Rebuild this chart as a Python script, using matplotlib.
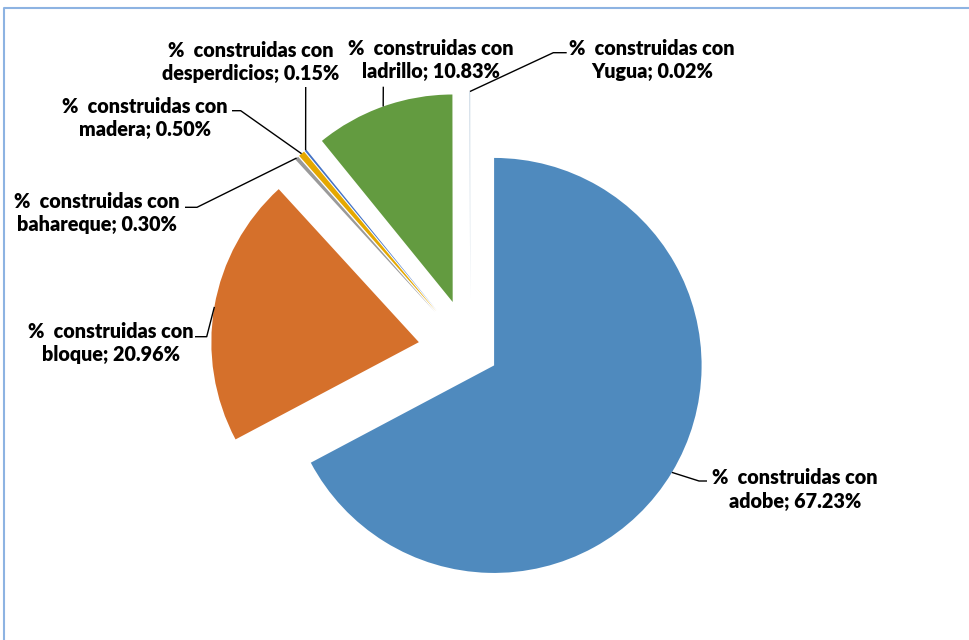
import matplotlib
matplotlib.use('Agg')
import matplotlib.pyplot as plt
import numpy as np

# ---- data ----
categories = ['adobe', 'bloque', 'bahareque', 'madera', 'desperdicios', 'ladrillo', 'Yugua']
values = [67.23, 20.96, 0.30, 0.50, 0.15, 10.83, 0.02]
value_labels = ['67.23%', '20.96%', '0.30%', '0.50%', '0.15%', '10.83%', '0.02%']
label_prefix = '%  construidas con'

# ---- style ----
colors = ['#4F8ABE', '#D5702B', '#9A9A9A', '#E5A800', '#4472C4', '#639B40', '#255E91']
explode = [28, 52, 52, 52, 52, 52, 52]   # offsets in pixels (data units)

W, H = 970, 640
fig = plt.figure(figsize=(W / 100, H / 100), dpi=100)
ax = fig.add_axes([0, 0, 1, 1])


def Y(y):
    return H - y


wedges, _ = ax.pie(values, explode=explode, colors=colors, startangle=90,
                   counterclock=False, radius=207.5, center=(470.1, Y(351)),
                   wedgeprops=dict(linewidth=0))

ax.set_xlim(0, W)
ax.set_ylim(0, H)
ax.set_aspect('auto')
ax.axis('off')

# label layout (image pixel coords): text centre, leader path after the anchor
layout = {
    'adobe':        ((795, 489.5), [(699, 481), (707, 481)]),
    'bloque':       ((111, 343),   [(206.7, 336.7), (195, 336.7)]),
    'bahareque':    ((97, 213),    [(197, 207.3), (185, 207.3)]),
    'madera':       ((145, 118),   [(240.7, 110.7), (232, 110.7)]),
    'desperdicios': ((251, 62),    [(305.7, 87)]),
    'ladrillo':     ((431, 60),    [(383.3, 86.7)]),
    'Yugua':        ((652, 60),    [(553.3, 52.7), (566.7, 52.7)]),
}

for w, cat, vl in zip(wedges, categories, value_labels):
    tm = np.deg2rad((w.theta1 + w.theta2) / 2)
    cx, cy = w.center
    ax_pt = (cx + w.r * np.cos(tm), cy + w.r * np.sin(tm))
    (tx, ty), path = layout[cat]
    xs = [ax_pt[0]] + [p[0] for p in path]
    ys = [ax_pt[1]] + [Y(p[1]) for p in path]
    ax.plot(xs, ys, color='black', lw=1.0, solid_capstyle='butt')
    ax.text(tx, Y(ty), f'{label_prefix}\n{cat}; {vl}', ha='center', va='center',
            multialignment='center', fontsize=14.2, fontweight='heavy',
            family=['Lato', 'DejaVu Sans'], color='black', linespacing=1.3)

# chart border (light blue)
ax.plot([4.5, 4.5, W + 5], [Y(H + 5), Y(7.5), Y(7.5)], color='#8DB3E2', lw=1.5,
        clip_on=False)

fig.savefig('out.png', dpi=100)
